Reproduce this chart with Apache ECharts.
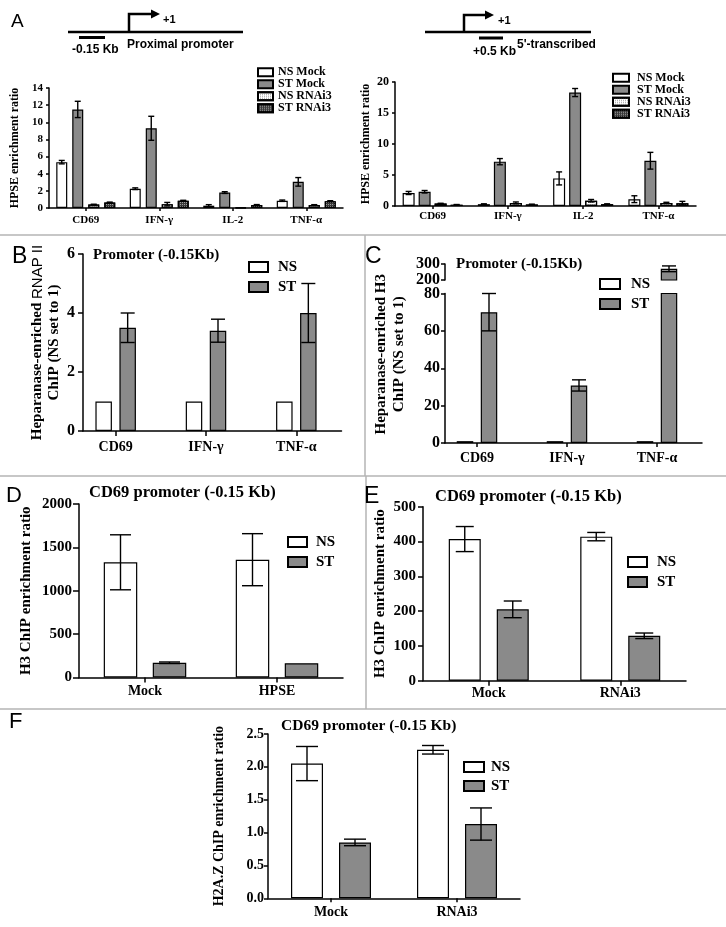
<!DOCTYPE html>
<html><head><meta charset="utf-8">
<script src="https://cdn.jsdelivr.net/npm/echarts@6/dist/echarts.min.js"></script>
<style>html,body{margin:0;padding:0;background:#fff}#c{width:726px;height:927px}</style>
</head><body><div id="c"></div>
<script>
// ---------- DATA ----------
const catsA = ['CD69', 'IFN-γ', 'IL-2', 'TNF-α'];
const namesA = ['NS Mock', 'ST Mock', 'NS RNAi3', 'ST RNAi3'];
// A, proximal promoter (-0.15 Kb)
const aProxNSMock = [5.35, 2.25, 0.27, 0.85];
const aProxNSMockErr = [0.2, 0.1, 0.12, 0.08];
const aProxSTMock = [11.5, 9.3, 1.8, 3.05];
const aProxSTMockErr = [0.95, 1.4, 0.1, 0.5];
const aProxNSRNAi = [0.4, 0.45, 0.05, 0.35];
const aProxNSRNAiErr = [0.04, 0.2, 0, 0.04];
const aProxSTRNAi = [0.65, 0.85, 0.35, 0.8];
const aProxSTRNAiErr = [0.04, 0.05, 0.05, 0.05];
const aProxTicks = [0, 2, 4, 6, 8, 10, 12, 14];
// A, 5'-transcribed (+0.5 Kb)
const aTrNSMock = [2.1, 0.3, 4.45, 1.1];
const aTrNSMockErr = [0.25, 0.05, 1.05, 0.55];
const aTrSTMock = [2.3, 7.15, 18.3, 7.3];
const aTrSTMockErr = [0.2, 0.5, 0.65, 1.35];
const aTrNSRNAi = [0.4, 0.5, 0.85, 0.5];
const aTrNSRNAiErr = [0.04, 0.15, 0.2, 0.1];
const aTrSTRNAi = [0.2, 0.25, 0.3, 0.45];
const aTrSTRNAiErr = [0.04, 0.05, 0.05, 0.3];
const aTrTicks = [0, 5, 10, 15, 20];
// B, RNAP II
const catsBC = ['CD69', 'IFN-γ', 'TNF-α'];
const namesNSST = ['NS', 'ST'];
const bNS = [1, 1, 1];
const bST = [3.5, 3.4, 4.0];
const bSTErr = [0.5, 0.39, 1.0];
const bTicks = [0, 2, 4, 6];
// C, H3 (broken axis)
const cNS = [1, 1, 1];
const cST = [70, 30.8, 270];
const cSTErr = [10, 3, 18];
const cTicksLow = [0, 20, 40, 60, 80];
const cTicksHigh = [200, 300];
// D
const catsD = ['Mock', 'HPSE'];
const dNS = [1328, 1358];
const dNSErr = [317, 300];
const dST = [170, 164];
const dSTErr = [9, 0];
const dTicks = [0, 500, 1000, 1500, 2000];
// E
const catsEF = ['Mock', 'RNAi3'];
const eNS = [407, 414];
const eNSErr = [36, 12];
const eST = [205, 129];
const eSTErr = [24, 8];
const eTicks = [0, 100, 200, 300, 400, 500];
// F
const fNS = [2.05, 2.26];
const fNSErr = [0.26, 0.065];
const fST = [0.85, 1.13];
const fSTErr = [0.05, 0.245];
const fTicks = [0, 0.5, 1.0, 1.5, 2.0, 2.5];

// ---------- STYLE ----------
const SERIF = "'Liberation Serif', 'Times New Roman', serif";
const SANS = "'Liberation Sans', Arial, sans-serif";
const GRAY = '#8a8a8a';
const BW = 1.2;
const stNS = {color: '#ffffff', borderColor: '#000', borderWidth: BW};
const stST = {color: GRAY, borderColor: '#000', borderWidth: BW};
const stNSR = {color: '#ffffff', borderColor: '#000', borderWidth: BW,
  decal: {symbol: 'rect', symbolSize: 1, color: '#9a9a9a', dashArrayX: [1, 1], dashArrayY: [1, 1]}};
const stSTR = {color: '#3a3a3a', borderColor: '#000', borderWidth: BW,
  decal: {symbol: 'rect', symbolSize: 1, color: '#a0a0a0', dashArrayX: [1, 1], dashArrayY: [1, 1]}};

function grid(left, top, width, height) {
  return {left, top, width, height, containLabel: false, outerBoundsMode: 'none'};
}
const grids = [
  grid(49, 88, 294, 120),        // 0 A left
  grid(395, 82, 301, 124),       // 1 A right
  grid(83, 254, 258.5, 177),     // 2 B axis lines
  grid(70.5, 254, 271, 177),     // 3 B bars
  grid(445, 293.5, 257, 149.5),  // 4 C low axis lines
  grid(432, 293.5, 270, 149.5),  // 5 C low bars
  grid(445, 264, 257, 16),       // 6 C high axis
  grid(432, 264, 270, 16),       // 7 C high bars
  grid(79, 504, 264, 173.5),     // 8 D
  grid(423, 506.7, 263, 174),    // 9 E
  grid(268, 734, 252, 164.3)     // 10 F
];

const LINE = {color: '#000', width: 1.5};
function catX(gi, cats, p) {
  return {type: 'category', gridIndex: gi, data: cats, show: p.show !== false,
    axisLine: {show: p.line !== false, onZero: false, lineStyle: LINE},
    axisTick: {show: true, alignWithLabel: true, interval: 0, length: p.tick, lineStyle: LINE},
    axisLabel: {interval: 0, color: '#000', fontFamily: SERIF, fontWeight: 'bold', fontSize: p.fs, margin: p.margin},
    splitLine: {show: false}};
}
function lineX(gi, show) {
  return {type: 'value', gridIndex: gi, min: 0, max: 1, show: show,
    axisLine: {show: true, onZero: false, lineStyle: LINE}, axisTick: {show: false},
    axisLabel: {show: false}, splitLine: {show: false}};
}
function valY(gi, ticks, p) {
  const o = {type: 'value', gridIndex: gi, min: ticks[0], max: ticks[ticks.length - 1],
    interval: ticks[1] - ticks[0], show: p.show !== false,
    axisLine: {show: true, lineStyle: LINE},
    axisTick: {show: true, length: p.tick || 4, lineStyle: LINE},
    axisLabel: {color: '#000', fontFamily: SERIF, fontWeight: 'bold', fontSize: p.fs || 12, margin: p.margin || 6,
      formatter: p.fmt || (v => String(v))},
    splitLine: {show: false}};
  if (p.name) {
    o.name = p.name; o.nameLocation = 'middle'; o.nameRotate = 90; o.nameGap = p.gap;
    o.nameTextStyle = Object.assign({color: '#000', fontFamily: SERIF, fontWeight: 'bold',
      fontSize: p.nfs, lineHeight: p.nlh || p.nfs + 2}, p.nstyle || {});
  }
  return o;
}

const xAxes = [
  catX(0, catsA, {fs: 11, margin: 7, tick: 3}),
  catX(1, catsA, {fs: 11, margin: 5, tick: 3}),
  lineX(2, true),
  catX(3, catsBC, {fs: 14, margin: 9, tick: 5, line: false}),
  lineX(4, true),
  catX(5, catsBC, {fs: 14, margin: 8, tick: 4, line: false}),
  lineX(6, false),
  catX(7, catsBC, {show: false, fs: 14, margin: 8, tick: 4}),
  catX(8, catsD, {fs: 14, margin: 7, tick: 5}),
  catX(9, catsEF, {fs: 14, margin: 6, tick: 5}),
  catX(10, catsEF, {fs: 14, margin: 7, tick: 4})
];
const yAxes = [
  valY(0, aProxTicks, {fs: 11, margin: 6, tick: 3, name: 'HPSE enrichment ratio', gap: 27, nfs: 12}),
  valY(1, aTrTicks, {fs: 12, margin: 6, tick: 3, name: 'HPSE enrichment ratio', gap: 21, nfs: 12}),
  valY(2, bTicks, {fs: 16, margin: 8, tick: 5,
    name: 'Heparanase-enriched {s|RNAP II}\nChIP (NS set to 1)', gap: 20, nfs: 15, nlh: 17,
    nstyle: {rich: {s: {fontFamily: SANS, fontWeight: 'normal', fontSize: 15, color: '#000'}}}}),
  valY(3, bTicks, {show: false}),
  valY(4, cTicksLow, {fs: 16, margin: 5, tick: 4,
    name: 'Heparanase-enriched H3\nChIP (NS set to 1)', gap: 37, nfs: 15, nlh: 18,
    nstyle: {padding: [0, 0, 0, 28]}}),
  valY(5, cTicksLow, {show: false}),
  valY(6, cTicksHigh, {fs: 16, margin: 5, tick: 4}),
  valY(7, cTicksHigh, {show: false}),
  valY(8, dTicks, {fs: 15, margin: 7, tick: 6, name: 'H3 ChIP enrichment ratio', gap: 44, nfs: 15}),
  valY(9, eTicks, {fs: 15, margin: 7, tick: 5, name: 'H3 ChIP enrichment ratio', gap: 34, nfs: 15}),
  valY(10, fTicks, {fs: 14, margin: 4, tick: 4, name: 'H2A.Z ChIP enrichment ratio', gap: 41, nfs: 14,
    fmt: v => v.toFixed(1)})
];

// ---------- SERIES ----------
const series = [];
function addGroup(ai, names, vals, errs, styles, bw, gap, cap, errFilter) {
  const n = names.length;
  names.forEach((nm, k) => {
    series.push({type: 'bar', name: nm, xAxisIndex: ai, yAxisIndex: ai, data: vals[k],
      barWidth: bw, barGap: (gap / bw * 100) + '%', itemStyle: styles[k], z: 2,
      emphasis: {disabled: true}, clip: true});
    if (!errs || !errs[k]) return;
    const off = (k - (n - 1) / 2) * (bw + gap);
    const data = [];
    vals[k].forEach((v, i) => {
      const e = errs[k][i];
      if (e > 0 && (!errFilter || errFilter(v - e, v + e))) data.push([i, v - e, v + e]);
    });
    if (!data.length) return;
    series.push({type: 'custom', xAxisIndex: ai, yAxisIndex: ai, data, z: 5, silent: true,
      encode: {x: 0, y: [1, 2]},
      renderItem: function (params, api) {
        const i = api.value(0);
        const a = api.coord([i, api.value(1)]);
        const b = api.coord([i, api.value(2)]);
        const x = a[0] + off;
        const st = {stroke: '#000', lineWidth: 1.4};
        return {type: 'group', children: [
          {type: 'line', shape: {x1: x, y1: b[1], x2: x, y2: a[1]}, style: st},
          {type: 'line', shape: {x1: x - cap / 2, y1: b[1], x2: x + cap / 2, y2: b[1]}, style: st},
          {type: 'line', shape: {x1: x - cap / 2, y1: a[1], x2: x + cap / 2, y2: a[1]}, style: st}
        ]};
      }});
  });
}
const stylesA = [stNS, stST, stNSR, stSTR];
addGroup(0, namesA, [aProxNSMock, aProxSTMock, aProxNSRNAi, aProxSTRNAi],
  [aProxNSMockErr, aProxSTMockErr, aProxNSRNAiErr, aProxSTRNAiErr], stylesA, 11, 5, 6);
addGroup(1, namesA, [aTrNSMock, aTrSTMock, aTrNSRNAi, aTrSTRNAi],
  [aTrNSMockErr, aTrSTMockErr, aTrNSRNAiErr, aTrSTRNAiErr], stylesA, 12, 4, 6);
addGroup(3, namesNSST, [bNS, bST], [null, bSTErr], [stNS, stST], 16.5, 7.5, 14);
addGroup(5, namesNSST, [cNS, cST], [null, cSTErr], [stNS, stST], 16.5, 7.5, 14,
  (lo, hi) => hi <= cTicksLow[cTicksLow.length - 1] + 0.5);
addGroup(7, namesNSST, [cNS, cST], [null, cSTErr], [stNS, stST], 16.5, 7.5, 14,
  (lo, hi) => lo >= cTicksHigh[0]);
addGroup(8, namesNSST, [dNS, dST], [dNSErr, dSTErr], [stNS, stST], 33.5, 15.5, 21);
addGroup(9, namesNSST, [eNS, eST], [eNSErr, eSTErr], [stNS, stST], 32, 16, 18);
addGroup(10, namesNSST, [fNS, fST], [fNSErr, fSTErr], [stNS, stST], 32, 16, 22);

// ---------- LEGENDS ----------
function leg(names, left, top, iw, ih, fs, lh, gap, tgap) {
  return {data: names, orient: 'vertical', left, top, itemWidth: iw, itemHeight: ih, itemGap: gap,
    icon: 'rect', selectedMode: false, padding: 0,
    textStyle: {fontFamily: SERIF, fontWeight: 'bold', fontSize: fs, color: '#000', lineHeight: lh,
      padding: [0, 0, 0, tgap]}};
}
const legends = [
  leg(namesA, 257, 66.3, 15, 8, 12, 9.4, 0, 0),
  leg(namesA, 612, 71.7, 16, 8, 12, 11.2, 0, 3),
  leg(namesNSST, 248, 259.5, 19, 10, 15, 15, 5, 5),
  leg(namesNSST, 599, 276.5, 20, 10, 15, 15, 5, 6),
  leg(namesNSST, 287, 534.5, 19, 10, 15, 15, 5, 4),
  leg(namesNSST, 627, 554.5, 19, 10, 15, 15, 5, 5),
  leg(namesNSST, 463, 759.5, 20, 10, 15, 15, 4, 2)
];

// ---------- TITLES ----------
function ttl(text, left, cy, fs) {
  return {text, left, top: cy - fs / 2, padding: 0,
    textStyle: {fontFamily: SERIF, fontWeight: 'bold', fontSize: fs, color: '#000', lineHeight: fs}};
}
const titles = [
  ttl('Promoter (-0.15Kb)', 93, 255, 15),
  ttl('Promoter (-0.15Kb)', 456, 264, 15),
  ttl('CD69 promoter (-0.15 Kb)', 89, 493, 16.5),
  ttl('CD69 promoter (-0.15 Kb)', 435, 497, 16.5),
  ttl('CD69 promoter (-0.15 Kb)', 281, 726, 15.5)
];

// ---------- GRAPHIC (panel letters, gene diagrams, separators) ----------
function gLine(x1, y1, x2, y2, w, c) {
  return {type: 'line', shape: {x1, y1, x2, y2}, style: {stroke: c || '#000', lineWidth: w}, silent: true};
}
function gText(text, x, y, font, align) {
  return {type: 'text', silent: true, style: {text, x, y, font, fill: '#000',
    textAlign: align || 'left', align: align || 'left', textVerticalAlign: 'middle', verticalAlign: 'middle'}};
}
const SEP = '#b4b4b4';
const dia = 'bold 12px ' + SANS;
const graphics = [
  gLine(0, 235, 726, 235, 1.5, SEP),
  gLine(365, 235, 365, 476, 1.5, SEP),
  gLine(0, 476, 726, 476, 1.5, SEP),
  gLine(366, 476, 366, 709, 1.5, SEP),
  gLine(0, 709, 726, 709, 1.5, SEP),
  gText('A', 11, 22, '19px ' + SANS),
  gText('B', 12, 257, '23px ' + SANS),
  gText('C', 365, 257, '23px ' + SANS),
  gText('D', 6, 496, '22px ' + SANS),
  gText('E', 364, 497, '23px ' + SANS),
  gText('F', 9, 722, '22px ' + SANS),
  // left diagram: proximal promoter
  gLine(68, 32, 243, 32, 2.5),
  gLine(79, 37.5, 105, 37.5, 3),
  {type: 'polyline', silent: true, shape: {points: [[129, 32], [129, 14], [152, 14]]}, style: {stroke: '#000', lineWidth: 2.5, fill: null}},
  {type: 'polygon', silent: true, shape: {points: [[151, 9.5], [160, 14], [151, 18.5]]}, style: {fill: '#000'}},
  gText('+1', 163, 20, 'bold 11px ' + SANS),
  gText('-0.15 Kb', 72, 50, dia),
  gText('Proximal promoter', 127, 45, dia),
  // right diagram: 5'-transcribed
  gLine(425, 32, 591, 32, 2.5),
  gLine(479, 38, 503, 38, 3),
  {type: 'polyline', silent: true, shape: {points: [[464, 32], [464, 15], [486, 15]]}, style: {stroke: '#000', lineWidth: 2.5, fill: null}},
  {type: 'polygon', silent: true, shape: {points: [[485, 10.5], [494, 15], [485, 19.5]]}, style: {fill: '#000'}},
  gText('+1', 498, 21, 'bold 11px ' + SANS),
  gText('+0.5 Kb', 473, 52, dia),
  gText("5'-transcribed", 517, 45, dia)
];

const chart = echarts.init(document.getElementById('c'), null, {renderer: 'canvas'});
chart.setOption({
  animation: false,
  backgroundColor: '#ffffff',
  grid: grids, xAxis: xAxes, yAxis: yAxes, series,
  legend: legends, title: titles,
  graphic: {elements: graphics}
});
</script></body></html>
